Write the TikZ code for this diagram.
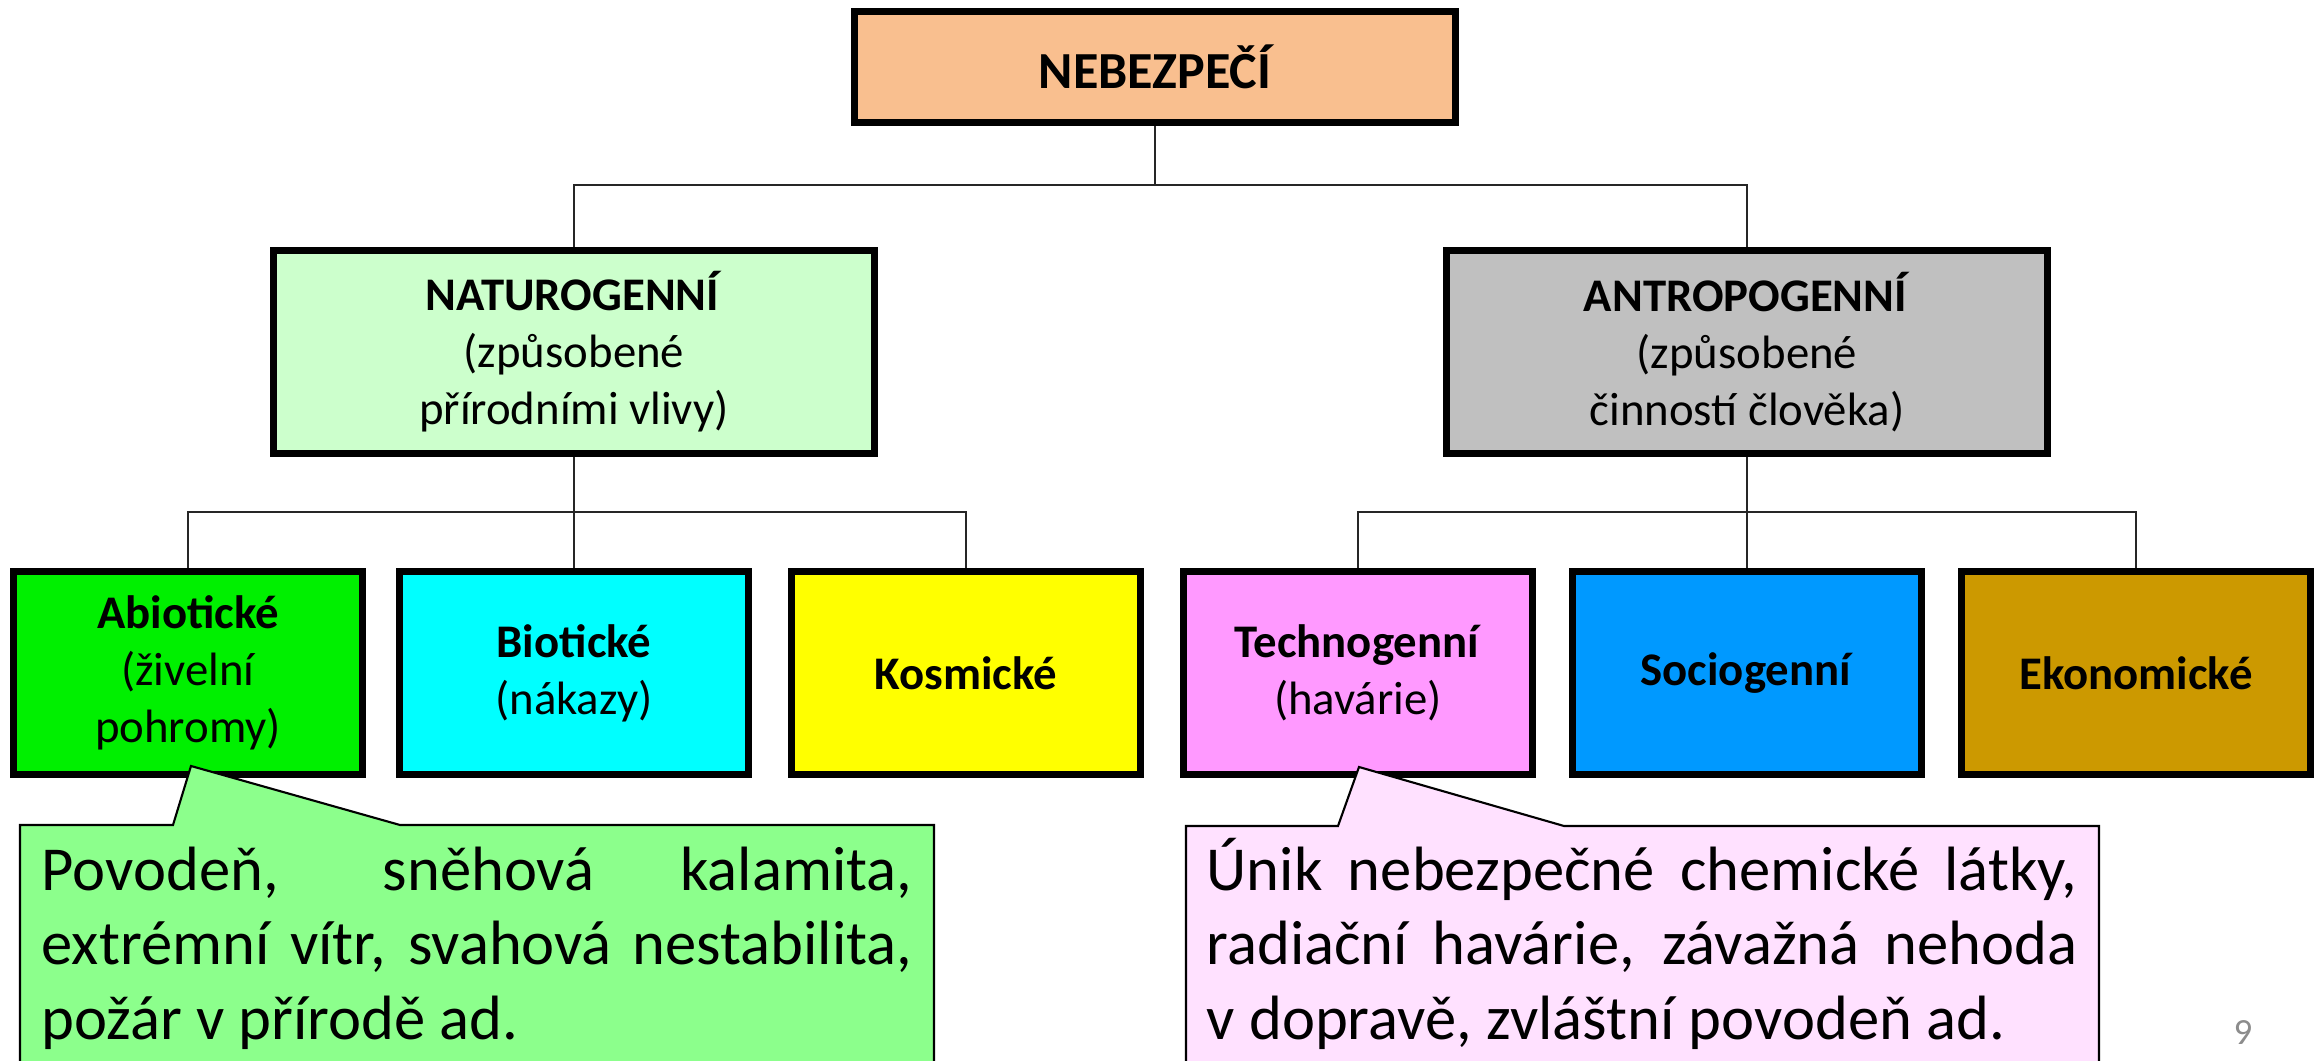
\documentclass[tikz,border=0pt]{standalone}
\usepackage{fontspec}
\setmainfont{Carlito}
\definecolor{nebezfill}{HTML}{F9BF8F}
\definecolor{naturfill}{HTML}{CCFFCC}
\definecolor{antropfill}{HTML}{C0C0C0}
\definecolor{abiofill}{HTML}{00F000}
\definecolor{biofill}{HTML}{00FFFF}
\definecolor{kosmfill}{HTML}{FFFF00}
\definecolor{technofill}{HTML}{FF99FF}
\definecolor{sociofill}{HTML}{0099FF}
\definecolor{ekonfill}{HTML}{CC9900}
\definecolor{gcallfill}{HTML}{8CFF8C}
\definecolor{pcallfill}{HTML}{FFE1FF}
\definecolor{pagegray}{HTML}{8C8C8C}
\tikzset{
  box/.style={draw=black, line width=2pt, inner sep=0pt, align=center,
    minimum width=3.49cm, minimum height=2.03cm, font=\fontsize{13.3}{16.2}\selectfont},
  bigbox/.style={box, minimum width=6.01cm},
  link/.style={draw=black!85, line width=0.7pt},
  callout/.style={draw=black, line width=0.6pt},
  callouttext/.style={anchor=base west, inner sep=0pt, font=\fontsize{17.8}{21.3}\selectfont}
}
\begin{document}
\begin{tikzpicture}[x=0.01cm,y=-0.01cm]
\clip (0,0) rectangle (2320,1061);
\node[bigbox, fill=nebezfill, minimum height=1.11cm, font=\fontsize{14.8}{18}\selectfont\bfseries] (nebez) at (1155,67) {NEBEZPEČÍ};
\node[bigbox, fill=naturfill] (natur) at (574,352) {\textbf{NATUROGENNÍ}\\(způsobené\\přírodními vlivy)};
\node[bigbox, fill=antropfill] (antrop) at (1747,352) {\textbf{ANTROPOGENNÍ}\\(způsobené\\činností člověka)};
\node[box, fill=abiofill] (abio) at (188,673) {\textbf{Abiotické}\\(živelní\\pohromy)};
\node[box, fill=biofill] (bio) at (574,673) {\textbf{Biotické}\\(nákazy)};
\node[box, fill=kosmfill] (kosm) at (966,673) {\textbf{Kosmické}};
\node[box, fill=technofill] (techno) at (1358,673) {\textbf{Technogenní}\\(havárie)};
\node[box, fill=sociofill] (socio) at (1747,673) {\textbf{Sociogenní}};
\node[box, fill=ekonfill] (ekon) at (2136,673) {\textbf{Ekonomické}};
\coordinate (bus) at (1155,185);
\coordinate (busN) at (574,512);
\coordinate (busA) at (1747,512);
\draw[link] (nebez) -- (bus);
\draw[link] (natur.north) |- (bus) -| (antrop.north);
\draw[link] (natur) -- (bio);
\draw[link] (abio.north) |- (busN) -| (kosm.north);
\draw[link] (antrop) -- (socio);
\draw[link] (techno.north) |- (busA) -| (ekon.north);
\filldraw[callout, fill=gcallfill] (20,1100) -- (20,825) -- (173,825) -- (191,766) -- (400,825) -- (934,825) -- (934,1100);
\node[callouttext] (abiotxt) at (41,890) {\parbox[t]{8.7cm}{\makebox[8.7cm][s]{Povodeň, sněhová kalamita,}\\
  \makebox[8.7cm][s]{extrémní vítr, svahová nestabilita,}\\
  požár v přírodě ad.}};
\filldraw[callout, fill=pcallfill] (1186,1100) -- (1186,826) -- (1338,826) -- (1359,767) -- (1564,826) -- (2099,826) -- (2099,1100);
\node[callouttext] (technotxt) at (1206,890) {\parbox[t]{8.7cm}{\makebox[8.7cm][s]{Únik nebezpečné chemické látky,}\\
  \makebox[8.7cm][s]{radiační havárie, závažná nehoda}\\
  v dopravě, zvláštní povodeň ad.}};
\node[text=pagegray, font=\fontsize{10.5}{12}\selectfont] (pagenum) at (2243,1033) {9};
\end{tikzpicture}
\end{document}
